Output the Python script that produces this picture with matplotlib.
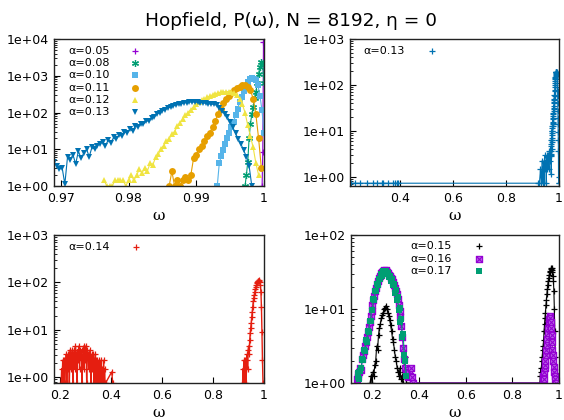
import numpy as np
import matplotlib
matplotlib.use('Agg')
import matplotlib.pyplot as plt
from matplotlib.path import Path
from matplotlib.ticker import LogLocator, NullFormatter, FuncFormatter

plt.rcParams['font.family'] = ['DejaVu Sans']

# ---------------- data ----------------
# panel 1: log10 P(w) for the small-alpha runs, regular bins
bin05 = (0.99972, 0.00010)
logp05 = [0.0, 0.93, 3.92]

bin08 = (0.9972, 0.0002)
logp08 = [0.0, 0.30, 0.65, 1.30, 1.70, 1.95, 2.15, 2.40, 2.55, 2.80, 3.05, 3.25,
          3.38, 3.35, 2.80]

bin10 = (0.9931, 0.0003)
logp10 = [0.0, 0.62, 0.82, 0.98, 1.15, 1.30, 1.45, 1.60, 1.75, 1.92, 2.10, 2.28,
          2.43, 2.58, 2.72, 2.82, 2.90, 2.93, 2.92, 2.88, 2.75, 2.45, 2.07, 1.43]

bin11 = (0.9860, 0.0004)
logp11 = [0.0, 0.40, 0.0, 0.15, 0.0, 0.15, 0.25, 0.15, 0.30, 0.75, 0.85, 1.00,
          1.10, 1.22, 1.35, 1.45, 1.60, 1.78, 1.95, 2.10, 2.25, 2.36, 2.45, 2.52,
          2.60, 2.66, 2.70, 2.74, 2.75, 2.70, 2.60, 2.38, 1.95, 1.30, 0.50]

bin12 = (0.9764, 0.0004)
logp12 = [0.15, 0.0, 0.0, 0.0, 0.15, 0.15, 0.15, 0.15, 0.0, 0.15, 0.30, 0.15,
          0.30, 0.45, 0.35, 0.50, 0.42, 0.62, 0.58, 0.78, 0.86, 1.02, 1.10, 1.22,
          1.28, 1.42, 1.48, 1.62, 1.72, 1.82, 1.92, 2.00, 2.08, 2.15, 2.22, 2.28,
          2.33, 2.37, 2.41, 2.45, 2.48, 2.51, 2.53, 2.55, 2.56, 2.57, 2.57, 2.56,
          2.53, 2.48, 2.38, 2.22, 2.00, 1.65, 1.35, 1.05, 0.62, 0.30]

bin13 = (0.9690, 0.0004)
logp13 = [0.66, 0.55, 0.45, 0.50, 0.05, 0.80, 0.72, 0.85, 0.60, 0.95, 0.75, 0.90,
          1.00, 0.80, 1.05, 1.00, 1.10, 1.15, 1.20, 1.10, 1.25, 1.18, 1.32, 1.28,
          1.38, 1.36, 1.48, 1.44, 1.55, 1.50, 1.62, 1.60, 1.70, 1.68, 1.78, 1.76,
          1.86, 1.88, 1.96, 2.00, 2.05, 2.08, 2.12, 2.15, 2.18, 2.20, 2.22, 2.24,
          2.26, 2.27, 2.28, 2.29, 2.28, 2.28, 2.27, 2.26, 2.25, 2.24, 2.23, 2.22,
          2.20, 2.13, 2.05, 1.96, 1.87, 1.75, 1.60, 1.43, 1.28, 1.14, 0.97, 0.80,
          0.55, 0.0]

# panel 2: alpha = 0.13 over the full range (low-omega part, P(w) itself)
w13_low = [0.212, 0.229, 0.248, 0.273, 0.298, 0.311, 0.330, 0.336, 0.355, 0.374,
           0.380, 0.386, 0.393, 0.921, 0.926, 0.930, 0.933, 0.936, 0.938, 0.940,
           0.942, 0.944, 0.946, 0.948, 0.950, 0.952, 0.954, 0.956, 0.958, 0.960,
           0.962, 0.964, 0.966, 0.968]
p13_low = [0.72, 0.72, 0.72, 0.72, 0.72, 0.72, 0.72, 0.72, 0.72, 0.72,
           0.72, 0.72, 0.72, 0.72, 0.72, 1.45, 0.72, 2.2, 0.72, 1.45,
           2.2, 0.72, 2.9, 1.45, 2.2, 0.72, 2.9, 1.45, 2.2, 2.9,
           1.45, 3.6, 2.2, 2.9]
w13_tail = [0.9990, 0.9998]
p13_tail = [0.72, 0.72]

# panel 3: alpha = 0.14, P(w)
bin14a = (0.206, 0.002)
p14a = [0.76, 1.52, 0.76, 2.28, 0.76, 1.52, 2.28, 0.76, 2.28, 1.52, 3.04,
        0.76, 2.28, 3.04, 1.52, 3.04, 0.76, 2.28, 3.8, 1.52, 3.04, 2.28,
        3.8, 0.76, 3.04, 2.28, 3.8, 1.52, 4.56, 2.28, 3.04, 0.76, 3.8,
        2.28, 3.04, 4.56, 1.52, 3.8, 2.28, 3.04, 3.8, 0.76, 3.04, 2.28,
        4.56, 1.52, 3.8, 2.28, 4.56, 3.04, 0.76, 3.8, 2.28, 3.04, 1.52,
        3.04, 2.28, 3.8, 0.76, 2.28, 3.04, 1.52, 2.28, 3.04, 0.76, 2.28,
        1.52, 3.04, 0.76, 2.28, 1.52, 2.28, 0.76, 1.52, 2.28, 0.76, 1.52,
        0.76, 2.28, 1.52, 0.76, 1.52, 0.76, 2.28, 0.76, 1.52, 0.76, 0.76]
w14_mid = [0.404, 0.408]
p14_mid = [1.3, 0.76]
bin14b = (0.916, 0.002)
p14b = [0.76, 1.52, 0.76, 2.28, 0.76, 2.28, 1.52, 0.76, 2.28, 3.04, 1.52, 3.8,
        4.56, 3.04, 6.0, 8.5, 11, 14, 19, 24, 31, 40, 47, 55, 63, 72, 80, 88,
        95, 100, 105, 108, 110, 108, 102, 88, 62, 30, 9, 2.28, 0.76]

# panel 4: log10 P(w) for alpha = 0.15, 0.16, 0.17
bin15a = (0.190, 0.004)
logp15a = [0.0, 0.1, 0.0, 0.15, 0.1, 0.25, 0.3, 0.5, 0.45, 0.65,
           0.75, 0.8, 0.88, 0.92, 0.95, 1.0, 1.02, 1.04, 1.0, 0.95,
           0.9, 0.85, 0.78, 0.7, 0.6, 0.55, 0.45, 0.35, 0.3, 0.2,
           0.15, 0.1, 0.2, 0.05, 0.1, 0.0, 0.15, 0.35, 0.2, 0.0]
bin15b = (0.918, 0.002)
logp15b = [0.0, 0.1, 0.2, 0.15, 0.3, 0.35, 0.45, 0.5, 0.58, 0.7,
           0.8, 0.88, 0.95, 1.05, 1.12, 1.2, 1.27, 1.33, 1.38, 1.42,
           1.46, 1.5, 1.52, 1.54, 1.55, 1.55, 1.53, 1.5, 1.45, 1.38,
           1.25, 1.0, 0.7, 0.35, 0.1, 0.0]

bin16a = (0.132, 0.004)
logp16a = [0.05, 0.12, 0.08, 0.15, 0.2, 0.18, 0.32, 0.38, 0.43, 0.5,
           0.56, 0.62, 0.69, 0.76, 0.83, 0.9, 0.97, 1.05, 1.12, 1.18,
           1.24, 1.29, 1.34, 1.38, 1.42, 1.45, 1.48, 1.50, 1.51, 1.53,
           1.52, 1.53, 1.51, 1.50, 1.48, 1.46, 1.44, 1.42, 1.40, 1.37,
           1.33, 1.29, 1.25, 1.20, 1.13, 1.05, 0.97, 0.89, 0.77, 0.62,
           0.47, 0.33, 0.2, 0.12, 0.18, 0.08, 0.15, 0.1, 0.2, 0.08, 0.0]
bin16b = (0.930, 0.002)
logp16b = [0.0, 0.1, 0.05, 0.15, 0.2, 0.25, 0.3, 0.38, 0.45, 0.52,
           0.6, 0.68, 0.75, 0.82, 0.87, 0.9, 0.88, 0.82, 0.75, 0.65,
           0.55, 0.45, 0.38, 0.3, 0.22, 0.15, 0.1, 0.05, 0.0]

bin17 = (0.136, 0.004)
logp17 = [0.08, 0.14, 0.05, 0.16, 0.20, 0.32, 0.31, 0.44, 0.43, 0.58,
          0.56, 0.70, 0.69, 0.84, 0.84, 0.99, 0.98, 1.13, 1.12, 1.25,
          1.24, 1.34, 1.33, 1.41, 1.40, 1.47, 1.45, 1.51, 1.49, 1.52,
          1.50, 1.51, 1.47, 1.49, 1.43, 1.45, 1.38, 1.41, 1.32, 1.34,
          1.22, 1.26, 1.12, 1.16, 0.98, 1.02, 0.82, 0.86, 0.62, 0.66,
          0.38, 0.30, 0.10]


def bins(b, n):
    return b[0] + b[1] * np.arange(n)


def series(b, logp):
    return bins(b, len(logp)), 10.0 ** np.asarray(logp)


# gnuplot default line colours
C_PUR, C_GRN, C_LBL, C_ORA = '#9400d3', '#009e73', '#56b4e9', '#e69f00'
C_YEL, C_BLU, C_RED, C_BLK = '#f0e442', '#0072b2', '#e51e10', '#000000'

asterisk = (6, 2, 0)
boxx = Path([(-1, -1), (1, -1), (1, 1), (-1, 1), (-1, -1),
             (-1, -1), (1, 1), (-1, 1), (1, -1)],
            [Path.MOVETO, Path.LINETO, Path.LINETO, Path.LINETO, Path.CLOSEPOLY,
             Path.MOVETO, Path.LINETO, Path.MOVETO, Path.LINETO])

fig = plt.figure(figsize=(5.64, 4.2), dpi=100)
W, H = 564.0, 420.0


def add_ax(l, t, r, b):
    return fig.add_axes([l / W, 1 - b / H, (r - l) / W, (b - t) / H])


def style(ax, xlim, ylim, xt, xtl):
    ax.set_yscale('log')
    ax.set_xlim(*xlim)
    ax.set_ylim(*ylim)
    ax.set_xticks(xt)
    ax.set_xticklabels(xtl)
    ax.yaxis.set_major_locator(LogLocator(base=10, numticks=10))
    ax.yaxis.set_minor_locator(LogLocator(base=10, subs=np.arange(2, 10), numticks=10))
    ax.yaxis.set_major_formatter(FuncFormatter(lambda v, p: f'{v:.0e}'))
    ax.yaxis.set_minor_formatter(NullFormatter())
    ax.tick_params(which='both', direction='in', top=False, right=False)
    ax.tick_params(which='major', length=4.5, width=0.8, labelsize=9)
    ax.tick_params(which='minor', length=2.5, width=0.6)
    ax.tick_params(axis='x', pad=4)
    ax.tick_params(axis='y', pad=3.5)
    ax.xaxis.set_minor_locator(plt.NullLocator())
    for s in ax.spines.values():
        s.set_linewidth(1.0)
        s.set_color('#222222')
    ax.set_xlabel('ω', fontsize=11, family='DejaVu Serif', labelpad=3)


def key(ax, x_txt, x_mk, ys, labels, styles):
    for y, lab, st in zip(ys, labels, styles):
        ax.text(x_txt, y, lab, transform=ax.transAxes, fontsize=8,
                ha='left', va='center')
        ax.plot([x_mk], [y], transform=ax.transAxes, clip_on=False,
                linestyle='none', **st)


kw = dict(lw=0.8)

# ---- panel 1 ----
ax1 = add_ax(54, 39, 264, 186)
st1 = [dict(color=C_PUR, marker='+', ms=5, mew=0.9),
       dict(color=C_GRN, marker=asterisk, ms=5, mew=0.9),
       dict(color=C_LBL, marker='s', ms=4.5, mew=0),
       dict(color=C_ORA, marker='o', ms=5, mew=0),
       dict(color=C_YEL, marker='^', ms=4.5, mew=0),
       dict(color=C_BLU, marker='v', ms=4.5, mew=0)]
for (b, lp), st in zip([(bin05, logp05), (bin08, logp08), (bin10, logp10),
                        (bin11, logp11), (bin12, logp12), (bin13, logp13)], st1):
    x, y = series(b, lp)
    ax1.plot(x, y, **kw, **st)
style(ax1, (0.969, 1.0), (1, 1e4), [0.97, 0.98, 0.99, 1.0],
      ['0.97', '0.98', '0.99', '1'])
key(ax1, 0.067, 0.386, [0.918 - 0.083 * i for i in range(6)],
    ['α=0.05', 'α=0.08', 'α=0.10', 'α=0.11', 'α=0.12', 'α=0.13'], st1)

# ---- panel 2 ----
ax2 = add_ax(350, 39, 559, 186)
x13, y13 = series(bin13, logp13)
x2 = np.concatenate([w13_low, x13, w13_tail])
y2 = np.concatenate([p13_low, y13, p13_tail])
st2 = dict(color=C_BLU, marker='+', ms=5, mew=0.9)
ax2.plot(x2, y2, **kw, **st2)
style(ax2, (0.21, 1.0), (0.626, 1e3), [0.4, 0.6, 0.8, 1.0],
      ['0.4', '0.6', '0.8', '1'])
key(ax2, 0.062, 0.391, [0.918], ['α=0.13'], [st2])

# ---- panel 3 ----
ax3 = add_ax(54, 235, 264, 383)
st3 = dict(color=C_RED, marker='+', ms=5, mew=0.9)
x3a = np.concatenate([bins(bin14a, len(p14a)), w14_mid])
y3a = np.concatenate([p14a, p14_mid])
ax3.plot(x3a, y3a, lw=1.0, **st3)
ax3.plot(bins(bin14b, len(p14b)), p14b, lw=1.0, **st3)
style(ax3, (0.178, 1.0), (0.758, 1e3), [0.2, 0.4, 0.6, 0.8, 1.0],
      ['0.2', '0.4', '0.6', '0.8', '1'])
key(ax3, 0.067, 0.39, [0.921], ['α=0.14'], [st3])

# ---- panel 4 ----
ax4 = add_ax(351, 235, 559, 383)
st4 = [dict(color=C_BLK, marker='+', ms=5, mew=0.9),
       dict(color=C_PUR, marker=boxx, ms=4.5, mew=0.8, mfc='#b75ee6', mec=C_PUR),
       dict(color=C_GRN, marker='s', ms=5, mew=0)]
xa, ya = series(bin15a, logp15a)
xb, yb = series(bin15b, logp15b)
ax4.plot(np.concatenate([xa, xb]), np.concatenate([ya, yb]), **kw, **st4[0])
xa, ya = series(bin16a, logp16a)
xb, yb = series(bin16b, logp16b)
ax4.plot(np.concatenate([xa, xb]), np.concatenate([ya, yb]), **kw, **st4[1])
x, y = series(bin17, logp17)
ax4.plot(x, y, **kw, **st4[2])
style(ax4, (0.108, 1.0), (1, 100), [0.2, 0.4, 0.6, 0.8, 1.0],
      ['0.2', '0.4', '0.6', '0.8', '1'])
key(ax4, 0.284, 0.615, [0.926, 0.838, 0.757],
    ['α=0.15', 'α=0.16', 'α=0.17'], st4)

fig.text(0.516, 1 - 26 / H, 'Hopfield, P(ω), N = 8192, η = 0',
         ha='center', va='baseline', fontsize=13.3)

fig.savefig('out.png', dpi=100)
